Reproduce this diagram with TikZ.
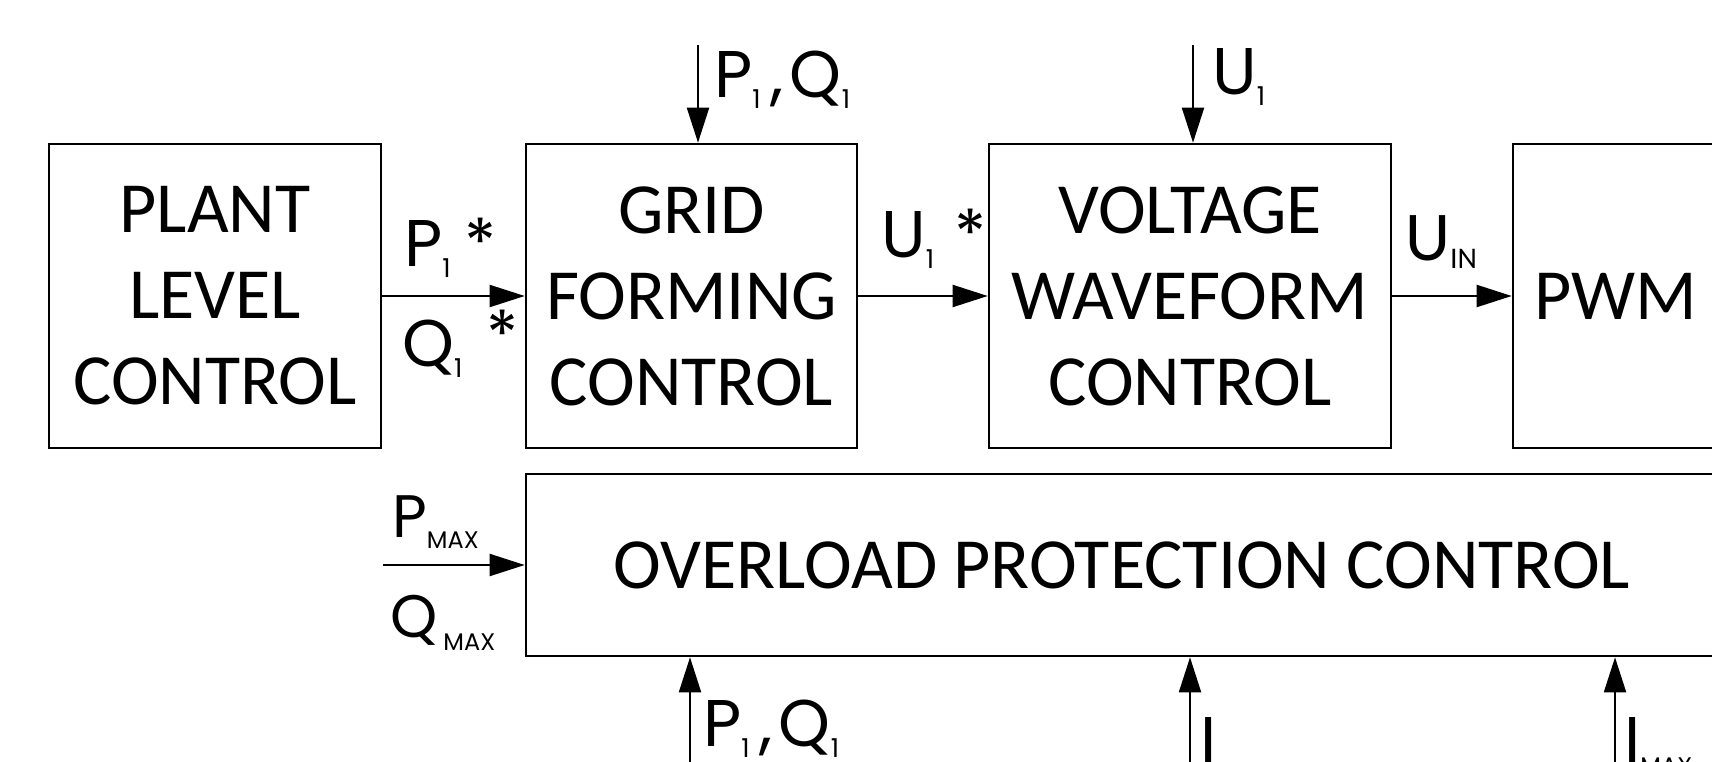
\documentclass[tikz,border=0pt]{standalone}
\usepackage{fontspec}
\setmainfont{Carlito}
\newfontfamily\labfont{Poppins}
\usetikzlibrary{arrows.meta}
\tikzset{
  blk/.style={draw, line width=2.6pt, inner sep=0pt, align=center, font=\fontsize{72}{86}\selectfont},
  sig/.style={line width=2pt, -{Triangle[length=35pt,width=22pt]}},
  lbl/.style={inner sep=0pt, anchor=base west, font=\labfont\fontsize{66}{66}\selectfont},
}
\newcommand\sbx[1]{\raisebox{-11pt}{\fontsize{26}{26}\selectfont #1}}
\newcommand\mx[1]{\raisebox{-#1}{\fontsize{24}{24}\selectfont MAX}}
\begin{document}
\begin{tikzpicture}[x=1pt,y=-1pt]
\useasboundingbox (0,0) rectangle (1712,762);
\clip (0,0) rectangle (1712,762);
% blocks
\node[blk, minimum width=332pt, minimum height=304pt] (plant) at (215,296) {PLANT\\LEVEL\\CONTROL};
\node[blk, minimum width=331pt, minimum height=304pt] (grid) at (691.5,296) {GRID\\FORMING\\CONTROL};
\node[blk, minimum width=402pt, minimum height=304pt] (volt) at (1190,296) {VOLTAGE\\WAVEFORM\\CONTROL};
\node[blk, minimum width=206pt, minimum height=304pt] (pwm) at (1616,296) {PWM};
\node[blk, minimum width=1192pt, minimum height=182pt] (over) at (1122,565) {OVERLOAD PROTECTION CONTROL};
% connectors
\draw[sig] (plant.east) -- (grid.west);
\draw[sig] (grid.east) -- (volt.west);
\draw[sig] (volt.east) -- (pwm.west);
\coordinate (t1) at (698,45);
\draw[sig] (t1) -- (t1 |- grid.north);
\coordinate (t2) at (1193,45);
\draw[sig] (t2) -- (t2 |- volt.north);
\coordinate (pm) at (383,565);
\draw[sig] (pm) -- (over.west);
\coordinate (b1) at (690,775);
\draw[sig] (b1) -- (b1 |- over.south);
\coordinate (b2) at (1190,775);
\draw[sig] (b2) -- (b2 |- over.south);
\coordinate (b3) at (1615,775);
\draw[sig] (b3) -- (b3 |- over.south);
% labels
\node[lbl] (lp) at (404,266) {P\sbx{1}\hspace{14pt}*};
\node[lbl] (lq) at (402,366) {Q\sbx{1}\hspace{24pt}\raisebox{8pt}{*}};
\node[lbl] (lu) at (881,257) {U\sbx{1}\hspace{20pt}*};
\node[lbl, font=\fontsize{70}{70}\selectfont] (lin) at (1405,260) {U\raisebox{-8pt}{\fontsize{30}{30}\selectfont IN}};
\node[lbl] (ltop1) at (714,98) {P\sbx{1}\hspace{10pt},\hspace{6pt}Q\sbx{1}};
\node[lbl] (ltop2) at (1212,95) {U\sbx{1}};
\node[lbl, font=\labfont\fontsize{60}{60}\selectfont] (lpm) at (392,537) {P\mx{11pt}};
\node[lbl, font=\labfont\fontsize{60}{60}\selectfont] (lqm) at (390,637) {Q\hspace{6pt}\mx{13pt}};
\node[lbl] (lb1) at (703,746) {P\sbx{1}\hspace{10pt},\hspace{6pt}Q\sbx{1}};
\node[lbl] (lI) at (1200,763) {I};
\node[lbl] (lImax) at (1624,763) {I\mx{11pt}};
\end{tikzpicture}
\end{document}
